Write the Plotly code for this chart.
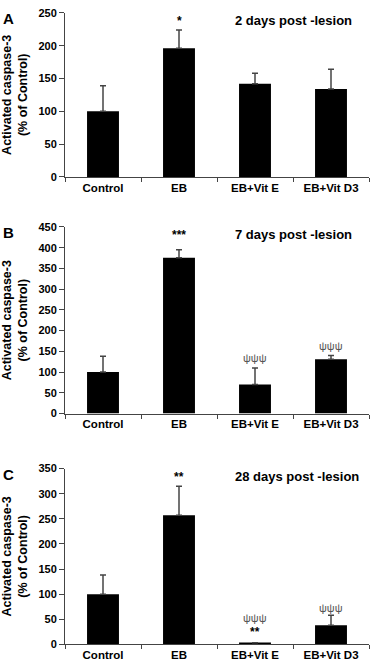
import plotly.graph_objects as go

categories = ["Control", "EB", "EB+Vit E", "EB+Vit D3"]

# Panel A: 2 days post-lesion
vals_a = [100, 196, 142, 134]
err_a = [39, 28, 16, 30]
# Panel B: 7 days post-lesion
vals_b = [100, 376, 70, 131]
err_b = [38, 19, 40, 9]
# Panel C: 28 days post-lesion
vals_c = [100, 257, 3, 38]
err_c = [38, 58, 0, 20]

titles = ["2 days post -lesion", "7 days post -lesion", "28 days post -lesion"]
letters = ["A", "B", "C"]
yranges = [250, 450, 350]
ydticks = [50, 50, 50]

# significance marks: (category, y value, text, kind)
marks_a = [("EB", 238, "*", "star")]
marks_b = [("EB", 430, "***", "star"), ("EB+Vit E", 133, "ψψψ", "psi"), ("EB+Vit D3", 162, "ψψψ", "psi")]
marks_c = [("EB", 334, "**", "star"), ("EB+Vit E", 52, "ψψψ", "psi"), ("EB+Vit E", 25, "**", "star"),
           ("EB+Vit D3", 72, "ψψψ", "psi")]

W, H = 371, 670
FONT = "Liberation Sans, Arial, sans-serif"

# pixel layout of each panel (top, bottom)
panels_px = [(7, 174), (225, 415), (471, 650)]
x0_px, x1_px = 65, 369

fig = go.Figure()
layout = dict(
    width=W, height=H,
    margin=dict(l=0, r=0, t=0, b=0),
    paper_bgcolor="white", plot_bgcolor="white",
    showlegend=False,
    bargap=0.58,
    font=dict(family=FONT, color="black"),
)
annotations = []

datasets = [(vals_a, err_a, marks_a), (vals_b, err_b, marks_b), (vals_c, err_c, marks_c)]
for i, ((vals, errs, marks), (top, bot)) in enumerate(zip(datasets, panels_px)):
    n = "" if i == 0 else str(i + 1)
    xa, ya = "x" + n, "y" + n
    fig.add_trace(go.Bar(
        x=categories, y=vals, xaxis=xa, yaxis=ya,
        marker=dict(color="black", line=dict(width=0)),
        error_y=dict(type="data", symmetric=False, array=errs, arrayminus=[0] * len(errs),
                     color="#444", thickness=1.5, width=3),
        hoverinfo="skip",
    ))
    ydom = [1 - bot / H, 1 - top / H]
    layout["xaxis" + n] = dict(
        domain=[x0_px / W, x1_px / W], anchor=ya,
        type="category", range=[-0.5, 3.5],
        showline=True, linecolor="#444", linewidth=1,
        ticks="outside", tickson="boundaries", ticklen=4, tickcolor="#444",
        tickfont=dict(family=FONT, size=11.5, weight="bold", color="black"),
        showgrid=False, zeroline=False, fixedrange=True,
    )
    layout["yaxis" + n] = dict(
        domain=ydom, anchor=xa,
        range=[0, yranges[i]], dtick=ydticks[i], tick0=0,
        showline=True, linecolor="#444", linewidth=1,
        ticks="outside", ticklen=5, tickcolor="#444",
        tickfont=dict(family=FONT, size=11, weight="bold", color="black"),
        showgrid=False, zeroline=False, fixedrange=True,
    )
    # panel letter
    annotations.append(dict(
        text=letters[i], xref="paper", yref="paper",
        x=1 / W, y=1 - (top - 5) / H, xanchor="left", yanchor="top",
        showarrow=False, font=dict(family=FONT, size=15, weight="bold", color="black"),
    ))
    # panel title
    annotations.append(dict(
        text=titles[i], xref="paper", yref="paper",
        x=(354 if i < 2 else 361) / W, y=1 - (top - 2) / H, xanchor="right", yanchor="top",
        showarrow=False, font=dict(family=FONT, size=13, weight="bold", color="black"),
    ))
    # y-axis title
    annotations.append(dict(
        text="Activated caspase-3<br>(% of Control)", xref="paper", yref="paper",
        x=15 / W, y=1 - (top + bot) / 2 / H, xanchor="center", yanchor="middle",
        textangle=-90, showarrow=False,
        font=dict(family=FONT, size=12.5, weight="bold", color="black"),
    ))
    # significance marks
    for cat, yv, txt, kind in marks:
        if kind == "star":
            f = dict(family=FONT, size=12, weight="bold", color="black")
        else:
            f = dict(family=FONT, size=11, color="#555")
        annotations.append(dict(
            text=txt, xref=xa, yref=ya, x=cat, y=yv,
            xanchor="center", yanchor="middle", showarrow=False, font=f,
        ))

layout["annotations"] = annotations
fig.update_layout(**layout)
fig.write_html(
    "out.html",
    config={"displayModeBar": False},
    post_script="document.body.style.margin='0';document.body.style.overflow='hidden';",
)
